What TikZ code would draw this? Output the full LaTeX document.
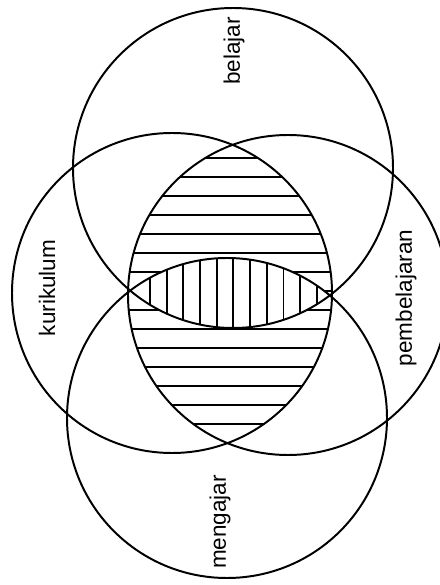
\documentclass[tikz,border=0pt]{standalone}
\usepackage{fontspec}
\setmainfont{Liberation Sans}

\begin{document}
\begin{tikzpicture}[ring/.style={line width=1.4pt},
    hatch/.style={line width=1.3pt},
    lbl/.style={rotate=90,font=\fontsize{16}{19}\selectfont}]
  \clip (0,0) rectangle (11,14.625);
  \coordinate (top) at (5.825,10.425);
  \coordinate (bot) at (5.675,4.175);
  \coordinate (lft) at (4.3,7.3);
  \coordinate (rgt) at (7.2,7.25);
  % horizontal hatching: kurikulum and pembelajaran
  \begin{scope}
    \clip (lft) circle (4);
    \clip (rgt) circle (4);
    \foreach \i in {0,...,14}
      \draw[hatch] (2,{10.675-0.475*\i}) -- (9.5,{10.675-0.475*\i});
  \end{scope}
  % vertical hatching: belajar and mengajar
  \begin{scope}
    \clip (top) circle (4);
    \clip (bot) circle (4);
    \fill[white] (0,0) rectangle (11,14.625);
    \foreach \i in {0,...,10}
      \draw[hatch] ({3.75+0.417*\i},5) -- ({3.75+0.417*\i},9.5);
  \end{scope}
  \draw[ring] (top) circle (4);
  \draw[ring] (bot) circle (4);
  \draw[ring] (lft) circle (4);
  \draw[ring] (rgt) circle (4);
  \node[lbl] (belajar) at (5.85,13.35) {belajar};
  \node[lbl] (mengajar) at (5.5,1.575) {mengajar};
  \node[lbl] (kurikulum) at (1.175,7.425) {kurikulum};
  \node[lbl] (pembelajaran) at (10.15,7.175) {pembelajaran};
\end{tikzpicture}
\end{document}
